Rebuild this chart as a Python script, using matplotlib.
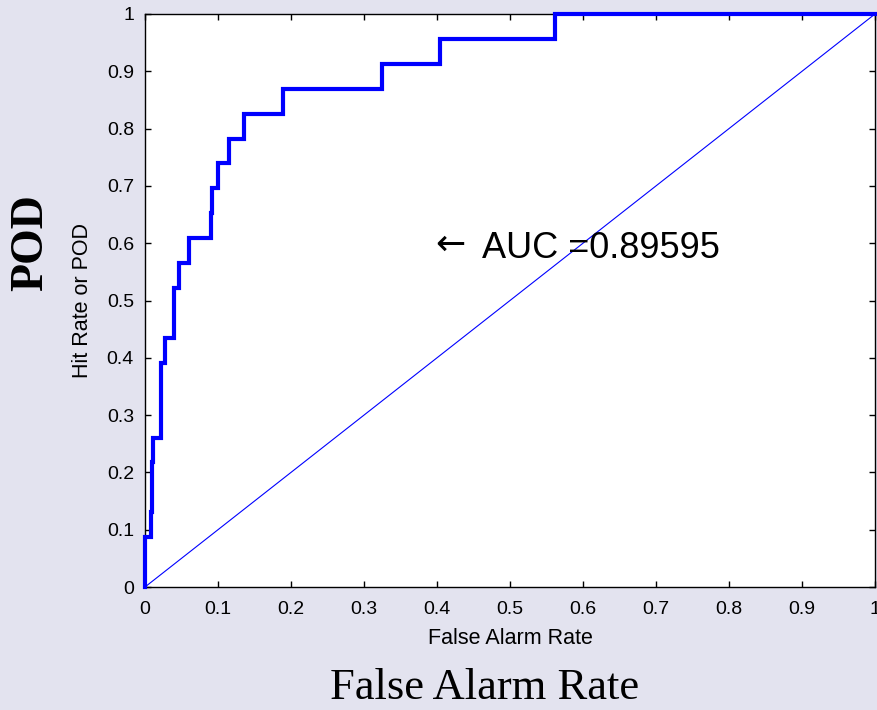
import matplotlib
matplotlib.use("Agg")
import matplotlib.pyplot as plt
import numpy as np

# ROC corner points: at each false alarm rate the hit rate rises to the given value
far = [0.0, 0.0, 0.0078, 0.0096, 0.0114, 0.0215, 0.028, 0.040, 0.047, 0.0606,
       0.0905, 0.092, 0.0999, 0.115, 0.135, 0.189, 0.325, 0.4045, 0.562, 1.0]
pod_counts = [0, 2, 3, 5, 6, 9, 10, 12, 13, 14, 15, 16, 17, 18, 19, 20, 21, 22, 23, 23]
n_events = 23
pod = [c / n_events for c in pod_counts]

# no-skill reference line
ref_x = [0.0, 1.0]
ref_y = [0.0, 1.0]

auc = 0.89595
ticks = [0, 0.1, 0.2, 0.3, 0.4, 0.5, 0.6, 0.7, 0.8, 0.9, 1]
tick_labels = ["0", "0.1", "0.2", "0.3", "0.4", "0.5", "0.6", "0.7", "0.8", "0.9", "1"]

bg = "#e3e3ef"
sans = ["Liberation Sans", "DejaVu Sans"]
serif = ["Liberation Serif", "DejaVu Serif"]

fig = plt.figure(figsize=(8.77, 7.10), dpi=100, facecolor=bg)
ax = fig.add_axes([145 / 877, (710 - 587) / 710, 730 / 877, 573 / 710])
ax.set_facecolor("white")

ax.plot(ref_x, ref_y, color="#0000ff", lw=0.8, zorder=3)
ax.plot(far, pod, drawstyle="steps-post", color="#0000ff", lw=3.0,
        solid_joinstyle="miter", clip_on=False, zorder=4)

ax.set_xlim(0, 1)
ax.set_ylim(0, 1)
ax.set_xticks(ticks)
ax.set_yticks(ticks)
ax.set_xticklabels(tick_labels, fontfamily=sans, fontsize=14)
ax.set_yticklabels(tick_labels, fontfamily=sans, fontsize=14)
ax.tick_params(direction="in", length=4, width=1, top=True, right=True,
               colors="black")
ax.tick_params(axis="x", pad=10)
ax.tick_params(axis="y", pad=8)
for s in ax.spines.values():
    s.set_linewidth(1.0)
    s.set_color("black")

ax.set_xlabel("False Alarm Rate", fontfamily=sans, fontsize=15.5, labelpad=7)
ax.set_ylabel("Hit Rate or POD", fontfamily=sans, fontsize=15.5, labelpad=10)

# AUC annotation: arrow glyph and value
ax.text(0.3975, 0.580, "\u2190", fontfamily=["DejaVu Sans"], fontsize=26,
        ha="left", va="baseline", zorder=5)
ax.text(0.461, 0.575, "AUC =%.5f" % auc, fontfamily=sans, fontsize=26,
        ha="left", va="baseline", zorder=5)

fig.text(485 / 877, 1 - 688 / 710, "False Alarm Rate", fontfamily=serif,
         fontsize=32, ha="center", va="center")
fig.text(31 / 877, 1 - 243 / 710, "POD", fontfamily=serif, fontweight="bold",
         fontsize=33, rotation=90, ha="center", va="center")

fig.savefig("out.png", dpi=100, facecolor=bg)
